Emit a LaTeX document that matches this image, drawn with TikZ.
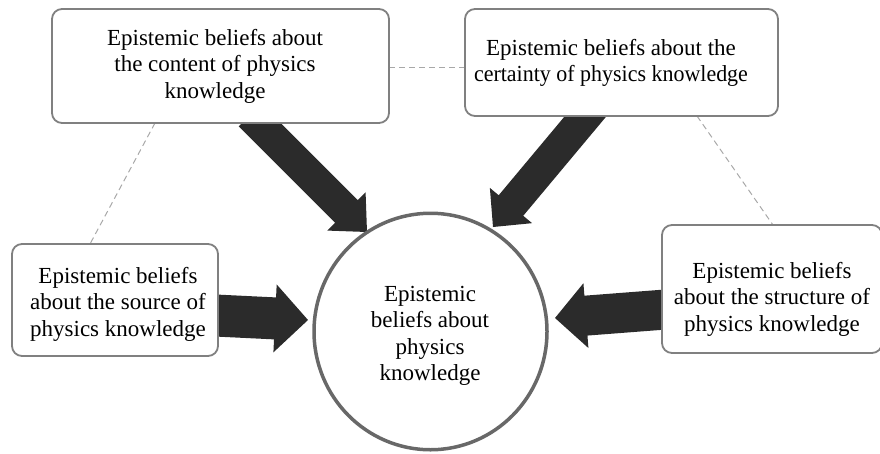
\documentclass[tikz,border=0pt]{standalone}
\usepackage{fontspec}
\setmainfont{Liberation Serif}
\usetikzlibrary{calc}
\pgfdeclarelayer{background}
\pgfsetlayers{background,main}
\definecolor{boxline}{HTML}{808080}
\definecolor{circline}{HTML}{686868}
\definecolor{arrowfill}{HTML}{2B2B2B}
\definecolor{dashc}{HTML}{A8A8A8}
\tikzset{
  beliefbox/.style={draw=boxline, line width=1.8pt, rounded corners=10pt, fill=white,
    inner sep=0pt},
  coreshape/.style={circle, draw=circline, line width=3.5pt, fill=white,
    minimum size=233pt, inner sep=0pt, yscale=1.015},
  belieftext/.style={align=center, inner sep=0pt, font=\fontsize{23}{26.5}\selectfont},
  linkline/.style={draw=dashc, line width=1pt, dash pattern=on 6pt off 4pt},
}
% block arrow: #1 start, #2 tip, #3 shaft half width, #4 head half width, #5 head length, #6 name
\newcommand{\blockarrow}[6]{%
  \coordinate (#6b) at ($(#2)!#5!(#1)$);
  \fill[arrowfill] ($(#1)!#3!90:(#2)$) -- ($(#6b)!#3!90:(#2)$) -- ($(#6b)!#4!90:(#2)$)
    -- (#2) -- ($(#6b)!#4!-90:(#2)$) -- ($(#6b)!#3!-90:(#2)$) -- ($(#1)!#3!-90:(#2)$) -- cycle;}
\begin{document}
\begin{tikzpicture}[x=1pt,y=-1pt]
\useasboundingbox (0,0) rectangle (880,453);
\clip (0,0) rectangle (880,453);

% boxes
\node[beliefbox, minimum width=337pt, minimum height=114pt] (content) at (220.5,66) {};
\node[beliefbox, minimum width=313pt, minimum height=107pt] (certainty) at (621.5,62.5) {};
\node[beliefbox, minimum width=206pt, minimum height=112pt] (source) at (115,300) {};
\node[beliefbox, minimum width=220pt, minimum height=128pt] (structure) at (772,289) {};
\node[coreshape] (core) at (430.5,331.5) {};

% texts
\node[belieftext] (contenttext) at (215,66)
  {Epistemic beliefs about\\the content of physics\\knowledge};
\node[belieftext] (certaintytext) at (611,63)
  {Epistemic beliefs about the\\\scalebox{0.955}[1]{certainty of physics knowledge}};
\node[belieftext] (sourcetext) at (118,304)
  {Epistemic beliefs\\about the source of\\physics knowledge};
\node[belieftext] (structuretext) at (772,299)
  {Epistemic beliefs\\about the structure of\\physics knowledge};
\node[belieftext] (coretext) at (430,336)
  {Epistemic\\beliefs about\\physics\\knowledge};

% connector end points
\coordinate (a1s) at (250,115); \coordinate (a1t) at (367,232);
\coordinate (a2s) at (595,105); \coordinate (a2t) at (493,227);
\coordinate (a3s) at (205,315); \coordinate (a3t) at (308,320);
\coordinate (a4s) at (672,309); \coordinate (a4t) at (555,318);

\coordinate (d1a) at (389,67);  \coordinate (d1b) at (465,67);
\coordinate (d2a) at (155,123); \coordinate (d2b) at (90,244);
\coordinate (d3a) at (697,116); \coordinate (d3b) at (773,225);

\begin{pgfonlayer}{background}
  \blockarrow{a1s}{a1t}{16pt}{27pt}{29pt}{arrowone}
  \blockarrow{a2s}{a2t}{16pt}{27.5pt}{28pt}{arrowtwo}
  \blockarrow{a3s}{a3t}{21pt}{34pt}{33pt}{arrowthree}
  \blockarrow{a4s}{a4t}{20pt}{32.5pt}{31pt}{arrowfour}
  \draw[linkline] (d1a) -- (d1b);
  \draw[linkline] (d2a) -- (d2b);
  \draw[linkline] (d3a) -- (d3b);
\end{pgfonlayer}
\end{tikzpicture}
\end{document}
